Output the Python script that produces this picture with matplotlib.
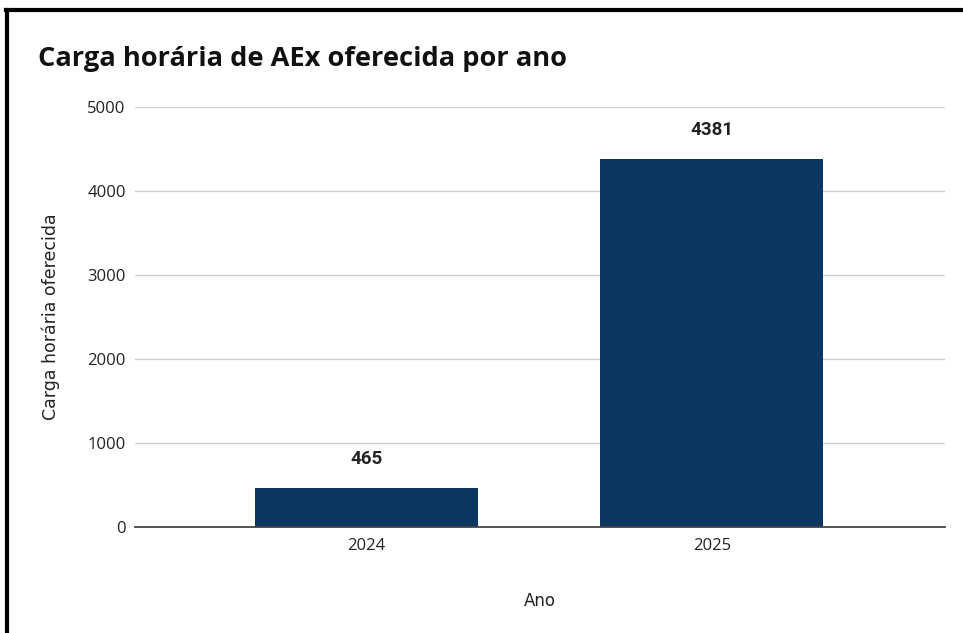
import matplotlib.pyplot as plt
from matplotlib.lines import Line2D

# data
anos = ['2024', '2025']
carga = [465, 4381]
y_ticks = [0, 1000, 2000, 3000, 4000, 5000]

plt.rcParams['font.family'] = ['Open Sans', 'DejaVu Sans']

fig = plt.figure(figsize=(9.63, 6.33), dpi=100)
ax = fig.add_axes([0.140, 0.1675, 0.841, 0.6635])

x = range(len(anos))
bars = ax.bar(x, carga, width=0.647, color='#0a365f', zorder=3)

for b, v in zip(bars, carga):
    ax.annotate(str(v), (b.get_x() + b.get_width() / 2, v),
                xytext=(0, 17.5), textcoords='offset points',
                ha='center', va='baseline', fontsize=13.5, fontweight='bold',
                color='#222222', family=['Roboto', 'DejaVu Sans'])

ax.set_xlim(-0.672, 1.675)
ax.set_ylim(0, 5000)
ax.set_yticks(y_ticks)
ax.set_xticks(list(x))
ax.set_xticklabels(anos)
ax.tick_params(axis='both', length=0, labelsize=12, colors='#222222')
ax.tick_params(axis='y', pad=6.5)
ax.tick_params(axis='x', pad=8)
ax.grid(axis='y', color='#cccccc', linewidth=0.9, zorder=0)
for s in ['top', 'right', 'left']:
    ax.spines[s].set_visible(False)
ax.spines['bottom'].set_color('#444444')
ax.spines['bottom'].set_linewidth(1.3)
ax.spines['bottom'].set_zorder(4)

ax.set_xlabel('Ano', fontsize=12, labelpad=27, color='#222222',
              family='DejaVu Sans')
ax.set_ylabel('Carga horária oferecida', fontsize=12.5, labelpad=20,
              color='#222222', family='DejaVu Sans')

fig.text(0.0395, 0.907, 'Carga horária de AEx oferecida por ano',
         fontsize=19.6, fontweight='bold', color='#111111', va='center')

# screenshot border (top and left)
fig.add_artist(Line2D([0.0065, 1.0], [0.984, 0.984], color='black', linewidth=3,
                      transform=fig.transFigure))
fig.add_artist(Line2D([0.0075, 0.0075], [0.0, 0.984], color='black', linewidth=3,
                      transform=fig.transFigure))

fig.savefig('out.png', dpi=100, facecolor='white')
